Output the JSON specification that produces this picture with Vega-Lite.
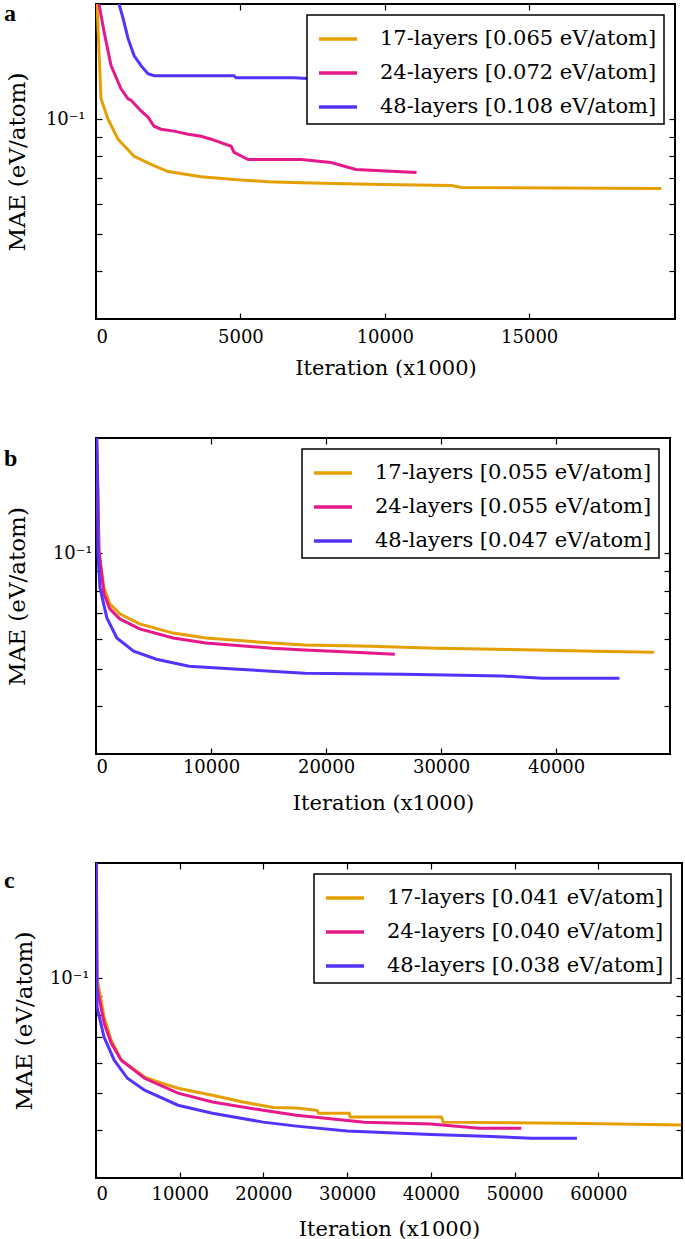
{
  "$schema": "https://vega.github.io/schema/vega-lite/v6.json",
  "background": "white",
  "padding": {"left": 3, "top": 1, "right": 0, "bottom": 0},
  "autosize": {"type": "pad"},
  "datasets": {
    "a": [
      {"s": "17-layers [0.065 eV/atom]", "i": 35, "v": 0.2},
      {"s": "17-layers [0.065 eV/atom]", "i": 173, "v": 0.113},
      {"s": "17-layers [0.065 eV/atom]", "i": 416, "v": 0.1},
      {"s": "17-layers [0.065 eV/atom]", "i": 762, "v": 0.0886},
      {"s": "17-layers [0.065 eV/atom]", "i": 1317, "v": 0.0799},
      {"s": "17-layers [0.065 eV/atom]", "i": 1906, "v": 0.0761},
      {"s": "17-layers [0.065 eV/atom]", "i": 2495, "v": 0.0729},
      {"s": "17-layers [0.065 eV/atom]", "i": 3638, "v": 0.0707},
      {"s": "17-layers [0.065 eV/atom]", "i": 4782, "v": 0.0695},
      {"s": "17-layers [0.065 eV/atom]", "i": 5960, "v": 0.0686},
      {"s": "17-layers [0.065 eV/atom]", "i": 7103, "v": 0.0682},
      {"s": "17-layers [0.065 eV/atom]", "i": 9875, "v": 0.0674},
      {"s": "17-layers [0.065 eV/atom]", "i": 12300, "v": 0.067},
      {"s": "17-layers [0.065 eV/atom]", "i": 12650, "v": 0.0662},
      {"s": "17-layers [0.065 eV/atom]", "i": 19580, "v": 0.0658},
      {"s": "24-layers [0.072 eV/atom]", "i": 104, "v": 0.2},
      {"s": "24-layers [0.072 eV/atom]", "i": 277, "v": 0.1696},
      {"s": "24-layers [0.072 eV/atom]", "i": 520, "v": 0.138},
      {"s": "24-layers [0.072 eV/atom]", "i": 866, "v": 0.12},
      {"s": "24-layers [0.072 eV/atom]", "i": 1109, "v": 0.113},
      {"s": "24-layers [0.072 eV/atom]", "i": 1213, "v": 0.112},
      {"s": "24-layers [0.072 eV/atom]", "i": 1559, "v": 0.105},
      {"s": "24-layers [0.072 eV/atom]", "i": 1800, "v": 0.1012},
      {"s": "24-layers [0.072 eV/atom]", "i": 2010, "v": 0.0958},
      {"s": "24-layers [0.072 eV/atom]", "i": 2250, "v": 0.0941},
      {"s": "24-layers [0.072 eV/atom]", "i": 2700, "v": 0.093},
      {"s": "24-layers [0.072 eV/atom]", "i": 3190, "v": 0.0913},
      {"s": "24-layers [0.072 eV/atom]", "i": 3640, "v": 0.0902},
      {"s": "24-layers [0.072 eV/atom]", "i": 3985, "v": 0.0886},
      {"s": "24-layers [0.072 eV/atom]", "i": 4680, "v": 0.0849},
      {"s": "24-layers [0.072 eV/atom]", "i": 4780, "v": 0.0818},
      {"s": "24-layers [0.072 eV/atom]", "i": 5270, "v": 0.0784},
      {"s": "24-layers [0.072 eV/atom]", "i": 7100, "v": 0.0784},
      {"s": "24-layers [0.072 eV/atom]", "i": 8140, "v": 0.077},
      {"s": "24-layers [0.072 eV/atom]", "i": 9000, "v": 0.0738},
      {"s": "24-layers [0.072 eV/atom]", "i": 11100, "v": 0.0725},
      {"s": "48-layers [0.108 eV/atom]", "i": 797, "v": 0.2},
      {"s": "48-layers [0.108 eV/atom]", "i": 936, "v": 0.1836},
      {"s": "48-layers [0.108 eV/atom]", "i": 1109, "v": 0.1626},
      {"s": "48-layers [0.108 eV/atom]", "i": 1317, "v": 0.1466},
      {"s": "48-layers [0.108 eV/atom]", "i": 1559, "v": 0.138},
      {"s": "48-layers [0.108 eV/atom]", "i": 1800, "v": 0.1314},
      {"s": "48-layers [0.108 eV/atom]", "i": 2010, "v": 0.1299},
      {"s": "48-layers [0.108 eV/atom]", "i": 4780, "v": 0.1299},
      {"s": "48-layers [0.108 eV/atom]", "i": 4850, "v": 0.1283},
      {"s": "48-layers [0.108 eV/atom]", "i": 6860, "v": 0.1283},
      {"s": "48-layers [0.108 eV/atom]", "i": 10560, "v": 0.1237},
      {"s": "48-layers [0.108 eV/atom]", "i": 14030, "v": 0.1164},
      {"s": "48-layers [0.108 eV/atom]", "i": 17500, "v": 0.1115},
      {"s": "48-layers [0.108 eV/atom]", "i": 19680, "v": 0.1095}
    ],
    "b": [
      {"s": "17-layers [0.055 eV/atom]", "i": 60, "v": 0.2},
      {"s": "17-layers [0.055 eV/atom]", "i": 150, "v": 0.15},
      {"s": "17-layers [0.055 eV/atom]", "i": 258, "v": 0.1},
      {"s": "17-layers [0.055 eV/atom]", "i": 690, "v": 0.0814},
      {"s": "17-layers [0.055 eV/atom]", "i": 1200, "v": 0.0739},
      {"s": "17-layers [0.055 eV/atom]", "i": 2070, "v": 0.0696},
      {"s": "17-layers [0.055 eV/atom]", "i": 3790, "v": 0.0655},
      {"s": "17-layers [0.055 eV/atom]", "i": 6710, "v": 0.062},
      {"s": "17-layers [0.055 eV/atom]", "i": 9550, "v": 0.0602},
      {"s": "17-layers [0.055 eV/atom]", "i": 15310, "v": 0.0584},
      {"s": "17-layers [0.055 eV/atom]", "i": 18150, "v": 0.0577},
      {"s": "17-layers [0.055 eV/atom]", "i": 23920, "v": 0.0573},
      {"s": "17-layers [0.055 eV/atom]", "i": 29600, "v": 0.0566},
      {"s": "17-layers [0.055 eV/atom]", "i": 38200, "v": 0.056},
      {"s": "17-layers [0.055 eV/atom]", "i": 43360, "v": 0.0556},
      {"s": "17-layers [0.055 eV/atom]", "i": 48520, "v": 0.0553},
      {"s": "24-layers [0.055 eV/atom]", "i": 60, "v": 0.2},
      {"s": "24-layers [0.055 eV/atom]", "i": 150, "v": 0.15},
      {"s": "24-layers [0.055 eV/atom]", "i": 258, "v": 0.1018},
      {"s": "24-layers [0.055 eV/atom]", "i": 690, "v": 0.0785},
      {"s": "24-layers [0.055 eV/atom]", "i": 1200, "v": 0.0717},
      {"s": "24-layers [0.055 eV/atom]", "i": 2070, "v": 0.0675},
      {"s": "24-layers [0.055 eV/atom]", "i": 3790, "v": 0.0636},
      {"s": "24-layers [0.055 eV/atom]", "i": 6710, "v": 0.0602},
      {"s": "24-layers [0.055 eV/atom]", "i": 9550, "v": 0.0584},
      {"s": "24-layers [0.055 eV/atom]", "i": 15310, "v": 0.0566},
      {"s": "24-layers [0.055 eV/atom]", "i": 18150, "v": 0.056},
      {"s": "24-layers [0.055 eV/atom]", "i": 22450, "v": 0.0553},
      {"s": "24-layers [0.055 eV/atom]", "i": 25980, "v": 0.0546},
      {"s": "48-layers [0.047 eV/atom]", "i": 50, "v": 0.2},
      {"s": "48-layers [0.047 eV/atom]", "i": 130, "v": 0.15},
      {"s": "48-layers [0.047 eV/atom]", "i": 170, "v": 0.1},
      {"s": "48-layers [0.047 eV/atom]", "i": 344, "v": 0.0814},
      {"s": "48-layers [0.047 eV/atom]", "i": 946, "v": 0.0679},
      {"s": "48-layers [0.047 eV/atom]", "i": 1810, "v": 0.0602},
      {"s": "48-layers [0.047 eV/atom]", "i": 3270, "v": 0.0556},
      {"s": "48-layers [0.047 eV/atom]", "i": 5250, "v": 0.053},
      {"s": "48-layers [0.047 eV/atom]", "i": 8090, "v": 0.0508},
      {"s": "48-layers [0.047 eV/atom]", "i": 12390, "v": 0.0499},
      {"s": "48-layers [0.047 eV/atom]", "i": 18150, "v": 0.0487},
      {"s": "48-layers [0.047 eV/atom]", "i": 26750, "v": 0.0484},
      {"s": "48-layers [0.047 eV/atom]", "i": 35350, "v": 0.0479},
      {"s": "48-layers [0.047 eV/atom]", "i": 38800, "v": 0.0473},
      {"s": "48-layers [0.047 eV/atom]", "i": 45510, "v": 0.0473}
    ],
    "c": [
      {"s": "17-layers [0.041 eV/atom]", "i": 40, "v": 0.2},
      {"s": "17-layers [0.041 eV/atom]", "i": 80, "v": 0.15},
      {"s": "17-layers [0.041 eV/atom]", "i": 121, "v": 0.1},
      {"s": "17-layers [0.041 eV/atom]", "i": 968, "v": 0.079},
      {"s": "17-layers [0.041 eV/atom]", "i": 1815, "v": 0.0688},
      {"s": "17-layers [0.041 eV/atom]", "i": 3024, "v": 0.061},
      {"s": "17-layers [0.041 eV/atom]", "i": 5806, "v": 0.0551},
      {"s": "17-layers [0.041 eV/atom]", "i": 7862, "v": 0.0531},
      {"s": "17-layers [0.041 eV/atom]", "i": 9797, "v": 0.0515},
      {"s": "17-layers [0.041 eV/atom]", "i": 13910, "v": 0.0494},
      {"s": "17-layers [0.041 eV/atom]", "i": 17540, "v": 0.0474},
      {"s": "17-layers [0.041 eV/atom]", "i": 21170, "v": 0.0459},
      {"s": "17-layers [0.041 eV/atom]", "i": 23950, "v": 0.0457},
      {"s": "17-layers [0.041 eV/atom]", "i": 26370, "v": 0.0451},
      {"s": "17-layers [0.041 eV/atom]", "i": 26610, "v": 0.0443},
      {"s": "17-layers [0.041 eV/atom]", "i": 30240, "v": 0.0443},
      {"s": "17-layers [0.041 eV/atom]", "i": 30360, "v": 0.0433},
      {"s": "17-layers [0.041 eV/atom]", "i": 41250, "v": 0.0433},
      {"s": "17-layers [0.041 eV/atom]", "i": 41490, "v": 0.042},
      {"s": "17-layers [0.041 eV/atom]", "i": 56250, "v": 0.0417},
      {"s": "17-layers [0.041 eV/atom]", "i": 62300, "v": 0.0415},
      {"s": "17-layers [0.041 eV/atom]", "i": 69900, "v": 0.0413},
      {"s": "24-layers [0.040 eV/atom]", "i": 40, "v": 0.2},
      {"s": "24-layers [0.040 eV/atom]", "i": 80, "v": 0.15},
      {"s": "24-layers [0.040 eV/atom]", "i": 121, "v": 0.0947},
      {"s": "24-layers [0.040 eV/atom]", "i": 968, "v": 0.0763},
      {"s": "24-layers [0.040 eV/atom]", "i": 1815, "v": 0.0676},
      {"s": "24-layers [0.040 eV/atom]", "i": 3024, "v": 0.061},
      {"s": "24-layers [0.040 eV/atom]", "i": 5806, "v": 0.0547},
      {"s": "24-layers [0.040 eV/atom]", "i": 9797, "v": 0.05},
      {"s": "24-layers [0.040 eV/atom]", "i": 13910, "v": 0.0474},
      {"s": "24-layers [0.040 eV/atom]", "i": 19960, "v": 0.0451},
      {"s": "24-layers [0.040 eV/atom]", "i": 23950, "v": 0.0438},
      {"s": "24-layers [0.040 eV/atom]", "i": 32050, "v": 0.042},
      {"s": "24-layers [0.040 eV/atom]", "i": 40030, "v": 0.0415},
      {"s": "24-layers [0.040 eV/atom]", "i": 45720, "v": 0.0405},
      {"s": "24-layers [0.040 eV/atom]", "i": 50800, "v": 0.0405},
      {"s": "48-layers [0.038 eV/atom]", "i": 20, "v": 0.2},
      {"s": "48-layers [0.038 eV/atom]", "i": 60, "v": 0.12},
      {"s": "48-layers [0.038 eV/atom]", "i": 121, "v": 0.084},
      {"s": "48-layers [0.038 eV/atom]", "i": 968, "v": 0.07},
      {"s": "48-layers [0.038 eV/atom]", "i": 2177, "v": 0.061},
      {"s": "48-layers [0.038 eV/atom]", "i": 3750, "v": 0.0547},
      {"s": "48-layers [0.038 eV/atom]", "i": 5806, "v": 0.0509},
      {"s": "48-layers [0.038 eV/atom]", "i": 9797, "v": 0.0465},
      {"s": "48-layers [0.038 eV/atom]", "i": 13910, "v": 0.0443},
      {"s": "48-layers [0.038 eV/atom]", "i": 19960, "v": 0.042},
      {"s": "48-layers [0.038 eV/atom]", "i": 23950, "v": 0.041},
      {"s": "48-layers [0.038 eV/atom]", "i": 29990, "v": 0.0398},
      {"s": "48-layers [0.038 eV/atom]", "i": 40030, "v": 0.039},
      {"s": "48-layers [0.038 eV/atom]", "i": 46450, "v": 0.0386},
      {"s": "48-layers [0.038 eV/atom]", "i": 52010, "v": 0.0381},
      {"s": "48-layers [0.038 eV/atom]", "i": 57450, "v": 0.0381}
    ]
  },
  "vconcat": [
    {
      "title": {"text": "a", "anchor": "start", "frame": "group", "dx": -92, "dy": 42, "offset": 0, "baseline": "alphabetic"},
      "width": 579, "height": 315,
      "data": {"name": "a"},
      "layer": [
        {
          "mark": {"type": "line", "strokeWidth": 3, "clip": true},
          "encoding": {
            "x": {"field": "i", "type": "quantitative", "scale": {"domain": [0, 20050], "nice": false, "zero": false},
                  "axis": {"title": "Iteration (x1000)", "orient": "bottom", "values": [0, 5000, 10000, 15000], "format": "d", "labelPadding": 15, "titlePadding": 11}},
            "y": {"field": "v", "type": "quantitative", "scale": {"type": "log", "domain": [0.03, 0.2], "nice": false},
                  "axis": {"title": "MAE (eV/atom)", "orient": "left", "values": [0.04, 0.05, 0.06, 0.07, 0.08, 0.09, 0.1], "labelExpr": "datum.value == 0.1 ? '10⁻¹' : ''", "labelPadding": 17, "titlePadding": 16}},
            "color": {"field": "s", "type": "nominal",
                      "scale": {"domain": ["17-layers [0.065 eV/atom]", "24-layers [0.072 eV/atom]", "48-layers [0.108 eV/atom]"], "range": ["#e69f00", "#e6198c", "#5533ff"]},
                      "legend": {"title": null}}
          }
        },
        {
          "mark": {"type": "line", "opacity": 0, "clip": true},
          "encoding": {
            "x": {"field": "i", "type": "quantitative", "axis": {"orient": "top", "labels": false, "title": null, "values": [0, 5000, 10000, 15000], "labelPadding": 0, "minExtent": 0}},
            "y": {"field": "v", "type": "quantitative", "axis": {"orient": "right", "labels": false, "title": null, "values": [0.04, 0.05, 0.06, 0.07, 0.08, 0.09, 0.1], "labelPadding": 0, "minExtent": 0}}
          }
        }
      ],
      "resolve": {"axis": {"x": "independent", "y": "independent"}}
    },
    {
      "vconcat": [
        {
          "title": {"text": "b", "anchor": "start", "frame": "group", "dx": -92, "dy": 53, "offset": 0, "baseline": "alphabetic"},
          "width": 574, "height": 316,
          "data": {"name": "b"},
          "layer": [
            {
              "mark": {"type": "line", "strokeWidth": 3, "clip": true},
              "encoding": {
                "x": {"field": "i", "type": "quantitative", "scale": {"domain": [0, 49900], "nice": false, "zero": false},
                      "axis": {"title": "Iteration (x1000)", "orient": "bottom", "values": [0, 10000, 20000, 30000, 40000], "format": "d", "labelPadding": 10, "titlePadding": 16}},
                "y": {"field": "v", "type": "quantitative", "scale": {"type": "log", "domain": [0.03, 0.2], "nice": false},
                      "axis": {"title": "MAE (eV/atom)", "orient": "left", "values": [0.04, 0.05, 0.06, 0.07, 0.08, 0.09, 0.1], "labelExpr": "datum.value == 0.1 ? '10⁻¹' : ''", "labelPadding": 10, "titlePadding": 23}},
                "color": {"field": "s", "type": "nominal",
                          "scale": {"domain": ["17-layers [0.055 eV/atom]", "24-layers [0.055 eV/atom]", "48-layers [0.047 eV/atom]"], "range": ["#e69f00", "#e6198c", "#5533ff"]},
                          "legend": {"title": null}}
              }
            },
            {
              "mark": {"type": "line", "opacity": 0, "clip": true},
              "encoding": {
                "x": {"field": "i", "type": "quantitative", "axis": {"orient": "top", "labels": false, "title": null, "values": [0, 10000, 20000, 30000, 40000], "labelPadding": 0, "minExtent": 0}},
                "y": {"field": "v", "type": "quantitative", "axis": {"orient": "right", "labels": false, "title": null, "values": [0.04, 0.05, 0.06, 0.07, 0.08, 0.09, 0.1], "labelPadding": 0, "minExtent": 0}}
              }
            }
          ],
          "resolve": {"axis": {"x": "independent", "y": "independent"}}
        },
        {
          "title": {"text": "c", "anchor": "start", "frame": "group", "dx": -92, "dy": 50, "offset": 0, "baseline": "alphabetic"},
          "width": 586, "height": 315,
          "data": {"name": "c"},
          "layer": [
            {
              "mark": {"type": "line", "strokeWidth": 3, "clip": true},
              "encoding": {
                "x": {"field": "i", "type": "quantitative", "scale": {"domain": [0, 70000], "nice": false, "zero": false},
                      "axis": {"title": "Iteration (x1000)", "orient": "bottom", "values": [0, 10000, 20000, 30000, 40000, 50000, 60000], "format": "d", "labelPadding": 13, "titlePadding": 15}},
                "y": {"field": "v", "type": "quantitative", "scale": {"type": "log", "domain": [0.03, 0.2], "nice": false},
                      "axis": {"title": "MAE (eV/atom)", "orient": "left", "values": [0.04, 0.05, 0.06, 0.07, 0.08, 0.09, 0.1], "labelExpr": "datum.value == 0.1 ? '10⁻¹' : ''", "labelPadding": 13, "titlePadding": 13}},
                "color": {"field": "s", "type": "nominal",
                          "scale": {"domain": ["17-layers [0.041 eV/atom]", "24-layers [0.040 eV/atom]", "48-layers [0.038 eV/atom]"], "range": ["#e69f00", "#e6198c", "#5533ff"]},
                          "legend": {"title": null}}
              }
            },
            {
              "mark": {"type": "line", "opacity": 0, "clip": true},
              "encoding": {
                "x": {"field": "i", "type": "quantitative", "axis": {"orient": "top", "labels": false, "title": null, "values": [0, 10000, 20000, 30000, 40000, 50000, 60000], "labelPadding": 0, "minExtent": 0}},
                "y": {"field": "v", "type": "quantitative", "axis": {"orient": "right", "labels": false, "title": null, "values": [0.04, 0.05, 0.06, 0.07, 0.08, 0.09, 0.1], "labelPadding": 0, "minExtent": 0}}
              }
            }
          ],
          "resolve": {"axis": {"x": "independent", "y": "independent"}}
        }
      ],
      "spacing": 47,
      "resolve": {"scale": {"x": "independent", "y": "independent", "color": "independent"}, "legend": {"color": "independent"}}
    }
  ],
  "spacing": 57,
  "resolve": {"scale": {"x": "independent", "y": "independent", "color": "independent"}, "legend": {"color": "independent"}},
  "config": {
    "font": "DejaVu Serif",
    "view": {"stroke": "black", "strokeWidth": 2},
    "title": {"font": "Liberation Serif", "fontSize": 24, "fontWeight": "bold", "color": "black"},
    "axis": {"grid": false, "domain": false, "tickColor": "black", "tickSize": -6, "tickWidth": 1.2,
             "labelFont": "DejaVu Serif", "labelFontSize": 18, "labelColor": "black", "labelPadding": 15,
             "titleFont": "DejaVu Serif", "titleFontSize": 21, "titleFontWeight": "normal", "titleColor": "black", "titlePadding": 10},
    "axisY": {"titleFontSize": 23},
    "legend": {"orient": "top-right", "offset": 11, "padding": 7, "strokeColor": "black", "strokeWidth": 1.5, "fillColor": "white",
               "cornerRadius": 0, "symbolType": "M-1.27,0H1.27", "symbolStrokeWidth": 3.5, "symbolSize": 900, "symbolOffset": 7,
               "symbolFillColor": "transparent",
               "labelFont": "DejaVu Serif", "labelFontSize": 21, "labelColor": "black", "labelOffset": 25, "labelLimit": 0, "rowPadding": 7}
  }
}
